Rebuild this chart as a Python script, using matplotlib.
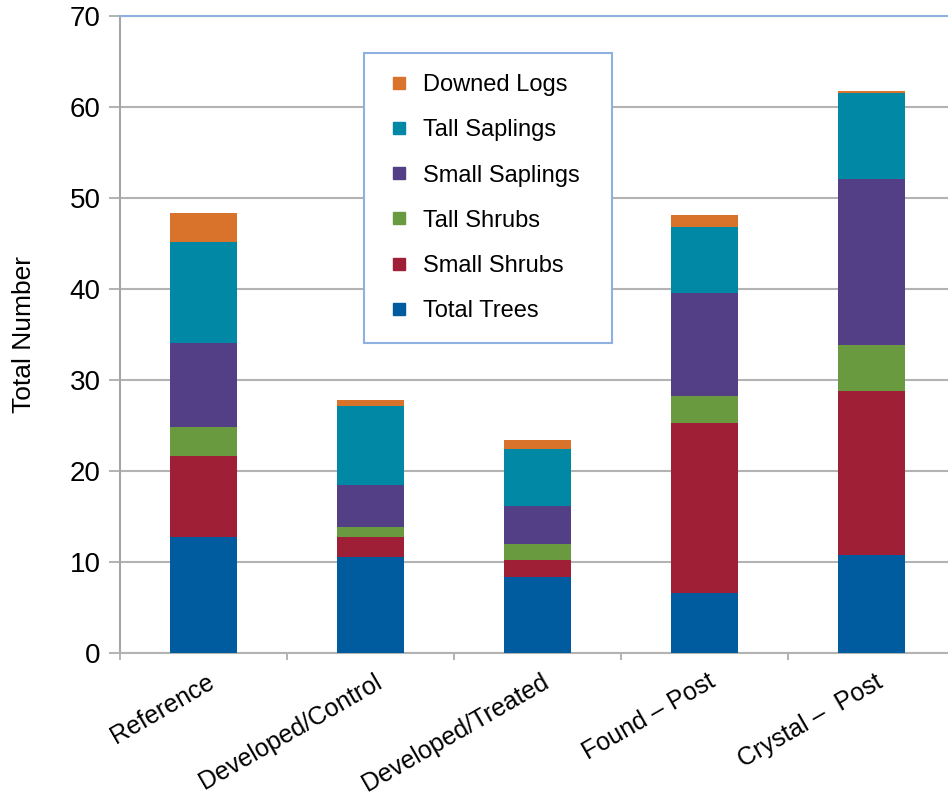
import matplotlib
matplotlib.use("Agg")
import matplotlib.pyplot as plt
from matplotlib.lines import Line2D
import numpy as np

plt.rcParams['font.family'] = ['Liberation Sans', 'DejaVu Sans']

categories = ["Reference", "Developed/Control", "Developed/Treated", "Found \u2013 Post", "Crystal \u2013  Post"]
series_names = ["Total Trees", "Small Shrubs", "Tall Shrubs", "Small Saplings", "Tall Saplings", "Downed Logs"]
total_trees = [12.7, 10.5, 8.3, 6.6, 10.8]
small_shrubs = [8.9, 2.3, 1.9, 18.7, 18.0]
tall_shrubs = [3.2, 1.1, 1.8, 2.9, 5.0]
small_saplings = [9.3, 4.6, 4.2, 11.4, 18.3]
tall_saplings = [11.1, 8.6, 6.2, 7.2, 9.4]
downed_logs = [3.2, 0.7, 1.0, 1.3, 0.3]
colors = ["#005c9e", "#9e1f36", "#6a9a40", "#523f86", "#0088a5", "#d9722b"]
y_ticks = [0, 10, 20, 30, 40, 50, 60, 70]

series = [total_trees, small_shrubs, tall_shrubs, small_saplings, tall_saplings, downed_logs]

fig = plt.figure(figsize=(9.48, 8.02), dpi=100)
ax = fig.add_axes([120/948, 1 - 653/802, 835/948, (653-16)/802])

x = np.arange(len(categories))
bottom = np.zeros(len(categories))
for name, vals, c in zip(series_names, series, colors):
    ax.bar(x, vals, width=0.4, bottom=bottom, color=c, label=name, zorder=3, linewidth=0)
    bottom += np.array(vals)

ax.set_xlim(-0.5, len(categories) - 0.5)
ax.set_ylim(0, 70)
ax.set_yticks(y_ticks)
ax.yaxis.grid(True, color="#b3b3b3", linewidth=1.5, zorder=0)
ax.set_axisbelow(True)

ax.spines["right"].set_visible(False)
ax.spines["top"].set_color("#8fb0e0")
ax.spines["top"].set_linewidth(1.5)
ax.spines["left"].set_color("#a6a6a6")
ax.spines["left"].set_linewidth(1.5)
ax.spines["bottom"].set_color("#b3b3b3")
ax.spines["bottom"].set_linewidth(1.5)

ax.tick_params(axis="y", direction="out", length=8, width=1.2, color="#a6a6a6",
               labelsize=20, pad=6)
ax.set_xticks(x)
ax.set_xticklabels(categories, rotation=30, ha="right", rotation_mode="anchor", fontsize=18)
ax.tick_params(axis="x", which="major", length=0, pad=12)
ax.set_xticks(np.arange(-0.5, len(categories) + 0.5, 1), minor=True)
ax.tick_params(axis="x", which="minor", direction="out", length=5, width=1.2, color="#a6a6a6")
for lbl in ax.get_xticklabels():
    lbl.set_transform(lbl.get_transform() + matplotlib.transforms.ScaledTranslation(0.03, 0, fig.dpi_scale_trans))

ax.set_ylabel("Total Number", fontsize=19, labelpad=24)

handles = [Line2D([], [], marker="s", linestyle="none", markersize=9, markerfacecolor=c,
                  markeredgecolor=c) for c in colors][::-1]
leg = ax.legend(handles, series_names[::-1], loc="upper left",
                bbox_to_anchor=(364/948, 1 - 333/802, 248/948, 280/802),
                bbox_transform=fig.transFigure, mode="expand",
                fontsize=17, frameon=True, fancybox=False, framealpha=1,
                edgecolor="#8fb0e0", labelspacing=0.98, borderpad=0.9, handletextpad=0.4,
                handlelength=1.2, borderaxespad=0)
leg.get_frame().set_linewidth(1.5)

fig.savefig("out.png", dpi=100)
